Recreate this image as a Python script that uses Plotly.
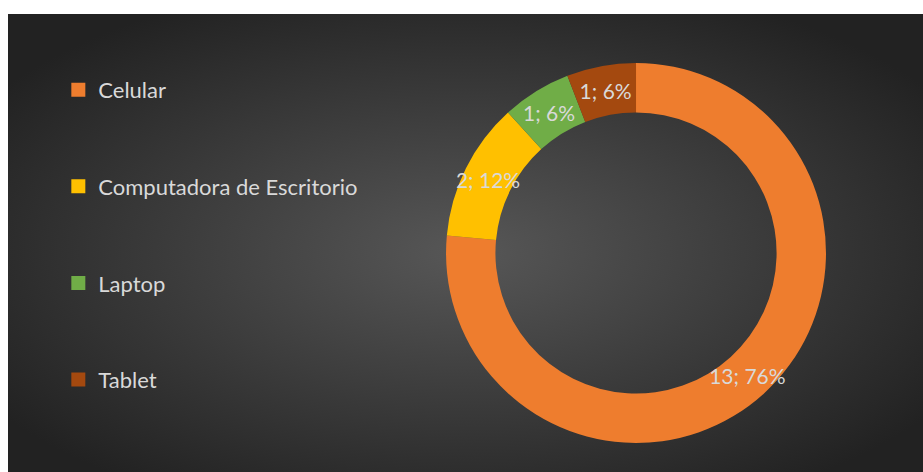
"""Donut chart: dispositivos usados (Celular, Computadora, Laptop, Tablet)."""

import base64

import plotly.graph_objects as go

# Data
labels = ["Celular", "Computadora de Escritorio", "Laptop", "Tablet"]
values = [13, 2, 1, 1]
colors = ["#EE7D2E", "#FFC000", "#70AD47", "#A4490F"]

FONT = "Lato"
TEXT_COLOR = "#D9D9D9"
DOMAIN = dict(x=[0.4787, 0.8940], y=[0.0634, 0.8930])

total = sum(values)
label_text = [f"{v}; {v / total:.0%}" for v in values]

# Dark radial gradient background (as an inline SVG image)
svg = (
    '<svg xmlns="http://www.w3.org/2000/svg" width="915" height="458" '
    'preserveAspectRatio="none" viewBox="0 0 915 458">'
    '<defs><radialGradient id="g" cx="0.5" cy="0.52" r="0.62">'
    '<stop offset="0" stop-color="#575757"/>'
    '<stop offset="1" stop-color="#222222"/>'
    "</radialGradient></defs>"
    '<rect width="915" height="458" fill="url(#g)"/></svg>'
)
bg_uri = "data:image/svg+xml;base64," + base64.b64encode(svg.encode()).decode()

fig = go.Figure()

# main ring; the big slice's label is drawn by the overlay below
fig.add_trace(
    go.Pie(
        labels=labels,
        values=values,
        hole=0.74,
        sort=False,
        direction="clockwise",
        rotation=0,
        marker=dict(colors=colors, line=dict(width=0)),
        text=[""] + label_text[1:],
        textinfo="text",
        textposition="inside",
        insidetextorientation="horizontal",
        textfont=dict(family=FONT, size=21, color=TEXT_COLOR),
        domain=DOMAIN,
        showlegend=False,
        hoverinfo="label+value+percent",
    )
)

# transparent overlay: splits the big slice so its label sits at the mid angle
# (plotly would otherwise move horizontal text to where the ring crosses an axis)
split = [0.35, 0.30, 0.35]
fig.add_trace(
    go.Pie(
        values=[values[0] * s for s in split] + values[1:],
        labels=["a", "b", "c"] + labels[1:],
        hole=0.74,
        sort=False,
        direction="clockwise",
        rotation=0,
        marker=dict(colors=["rgba(0,0,0,0)"] * 6, line=dict(width=0)),
        text=["", label_text[0], "", "", "", ""],
        textinfo="text",
        textposition="inside",
        insidetextorientation="horizontal",
        textfont=dict(family=FONT, size=21, color=TEXT_COLOR),
        domain=DOMAIN,
        showlegend=False,
        hoverinfo="skip",
    )
)

# Legend entries (one per group so they can be spaced out)
for name, color in zip(labels, colors):
    fig.add_trace(
        go.Scatter(
            x=[None],
            y=[None],
            mode="markers",
            name=name,
            legendgroup=name,
            marker=dict(symbol="square", size=14, color=color),
        )
    )

fig.update_layout(
    width=923,
    height=472,
    margin=dict(l=8, r=0, t=14, b=0),
    paper_bgcolor="white",
    plot_bgcolor="rgba(0,0,0,0)",
    xaxis=dict(visible=False),
    yaxis=dict(visible=False),
    images=[
        dict(
            source=bg_uri,
            xref="paper",
            yref="paper",
            x=0,
            y=1,
            sizex=1,
            sizey=1,
            sizing="stretch",
            xanchor="left",
            yanchor="top",
            layer="below",
        )
    ],
    uniformtext=dict(minsize=21, mode="show"),
    legend=dict(
        x=0.055,
        y=0.88,
        xanchor="left",
        yanchor="top",
        bgcolor="rgba(0,0,0,0)",
        font=dict(family=FONT, size=22, color=TEXT_COLOR),
        tracegroupgap=65,
        itemclick=False,
    ),
)

# drop the default page margin so the figure sits at the window origin
fig.write_html(
    "out.html",
    config={"displayModeBar": False},
    post_script="document.body.style.margin = '0';",
)
